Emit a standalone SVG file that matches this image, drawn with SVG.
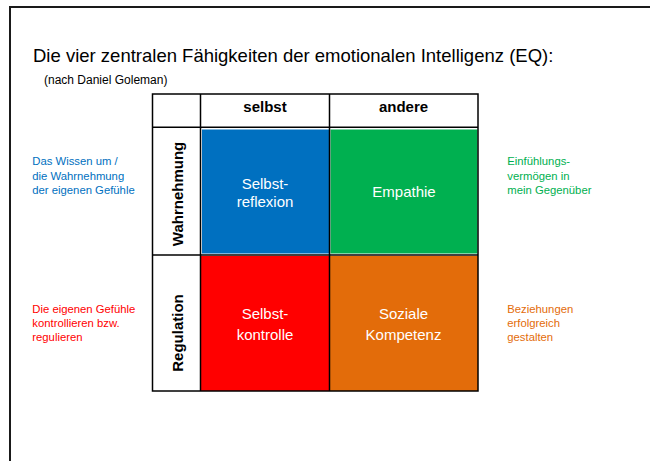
<svg xmlns="http://www.w3.org/2000/svg" width="650" height="461" viewBox="0 0 650 461">
<style>
text{font-family:"Liberation Sans",Arial,sans-serif}
.hd{font-size:15px;font-weight:bold;fill:#000;text-anchor:middle}
.cell{font-size:15px;fill:#fff;text-anchor:middle}
.note{font-size:11.3px}
.grid{stroke:#000;stroke-width:1.5;fill:none}
</style>
<rect x="10" y="7" width="660" height="470" fill="#fff" stroke="#1a1a1a" stroke-width="2"/>
<g id="title">
<text x="33" y="62" font-size="18.5" fill="#000">Die vier zentralen Fähigkeiten der emotionalen Intelligenz (EQ):</text>
<text x="44" y="84" font-size="12" fill="#000">(nach Daniel Goleman)</text>
</g>
<g id="cell-selbstreflexion">
<rect x="202" y="129.5" width="127" height="124" fill="#0070C0"/>
<text class="cell" x="265" y="189">Selbst-</text>
<text class="cell" x="265" y="207">reflexion</text>
</g>
<g id="cell-empathie">
<rect x="330.5" y="129.5" width="147" height="124" fill="#00B050"/>
<text class="cell" x="404" y="197">Empathie</text>
</g>
<g id="cell-selbstkontrolle">
<rect x="201" y="256" width="128" height="135" fill="#FF0000"/>
<text class="cell" x="265" y="319">Selbst-</text>
<text class="cell" x="265" y="340">kontrolle</text>
</g>
<g id="cell-sozialekompetenz">
<rect x="330" y="256" width="148" height="135" fill="#E36C0A"/>
<text class="cell" x="403.5" y="319">Soziale</text>
<text class="cell" x="403.5" y="340">Kompetenz</text>
</g>
<g id="table-grid">
<rect class="grid" x="152.5" y="94" width="325.5" height="297"/>
<line class="grid" x1="200.5" y1="94" x2="200.5" y2="391"/>
<line class="grid" x1="329.5" y1="94" x2="329.5" y2="391"/>
<line class="grid" x1="152.5" y1="127.3" x2="478" y2="127.3"/>
<line class="grid" x1="152.5" y1="255" x2="478" y2="255"/>
</g>
<g id="header-selbst"><text class="hd" x="265" y="112">selbst</text></g>
<g id="header-andere"><text class="hd" x="403.5" y="112">andere</text></g>
<g id="row-wahrnehmung"><text class="hd" transform="translate(182.5,194) rotate(-90)">Wahrnehmung</text></g>
<g id="row-regulation"><text class="hd" transform="translate(182.5,333) rotate(-90)">Regulation</text></g>
<g id="note-wahrnehmung" class="note" fill="#0070C0">
<text x="32.3" y="165.3">Das Wissen um /</text>
<text x="32.3" y="179.7">die Wahrnehmung</text>
<text x="32.3" y="194">der eigenen Gefühle</text>
</g>
<g id="note-regulation" class="note" fill="#FF0000">
<text x="32.3" y="313">Die eigenen Gefühle</text>
<text x="32.3" y="327">kontrollieren bzw.</text>
<text x="32.3" y="341">regulieren</text>
</g>
<g id="note-empathie" class="note" fill="#00B050">
<text x="507.3" y="165.3">Einfühlungs-</text>
<text x="507.3" y="179.7">vermögen in</text>
<text x="507.3" y="194">mein Gegenüber</text>
</g>
<g id="note-sozial" class="note" fill="#E36C0A">
<text x="507.3" y="313">Beziehungen</text>
<text x="507.3" y="327">erfolgreich</text>
<text x="507.3" y="341">gestalten</text>
</g>
<g id="connectors"/>
</svg>
